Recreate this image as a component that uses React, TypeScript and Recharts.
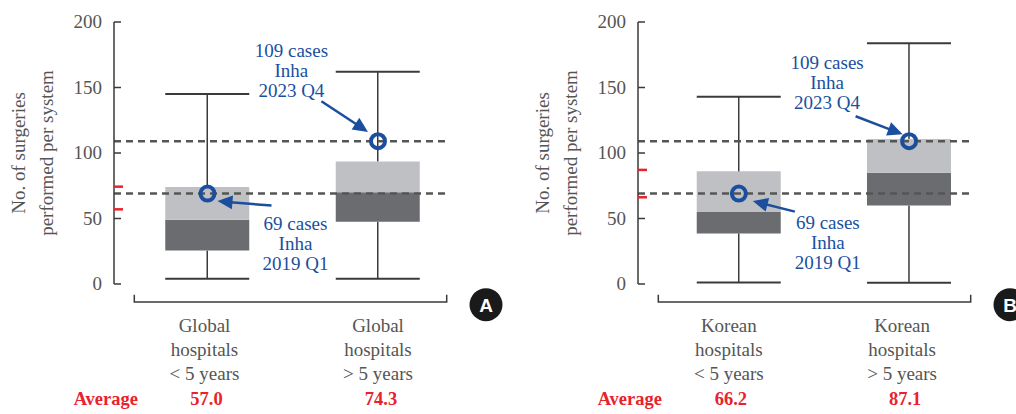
import React from 'react';
import { ComposedChart, Bar, XAxis, YAxis, ReferenceLine, ReferenceDot } from 'recharts';

// ---- data ----
const globalCategories = [
  ['Global', 'hospitals', '< 5 years'],
  ['Global', 'hospitals', '> 5 years'],
];
const globalMin = [4, 4];
const globalQ1 = [25.5, 47.5];
const globalMedian = [49, 70];
const globalQ3 = [74, 93.6];
const globalMax = [145, 162];
const globalAverage = ['57.0', '74.3'];

const koreanCategories = [
  ['Korean', 'hospitals', '< 5 years'],
  ['Korean', 'hospitals', '> 5 years'],
];
const koreanMin = [1.2, 1];
const koreanQ1 = [38.6, 60];
const koreanMedian = [55, 85];
const koreanQ3 = [86, 110.7];
const koreanMax = [143, 183.7];
const koreanAverage = ['66.2', '87.1'];

const inhaCases = [69, 109];
const inhaLabels = [
  ['69 cases', 'Inha', '2019 Q1'],
  ['109 cases', 'Inha', '2023 Q4'],
];
const yTicks = [0, 50, 100, 150, 200];

// ---- styles ----
const FONT = '"Liberation Serif", "Times New Roman", serif';
const GRAY_TEXT = '#555555';
const BLUE = '#1b4f9e';
const RED = '#e8232b';
const DARK = '#6b6c70';
const LIGHT = '#bfc0c3';
const LINE = '#3a3a3a';

const LowWhisker = (p: any) => {
  const { x, y, width, height } = p;
  const cx = x + width / 2;
  return (
    <g>
      <line x1={cx} y1={y} x2={cx} y2={y + height} stroke={LINE} strokeWidth={1.5} />
      <line x1={x} y1={y + height} x2={x + width} y2={y + height} stroke={LINE} strokeWidth={2} />
    </g>
  );
};
const HighWhisker = (p: any) => {
  const { x, y, width, height } = p;
  const cx = x + width / 2;
  return (
    <g>
      <line x1={cx} y1={y} x2={cx} y2={y + height} stroke={LINE} strokeWidth={1.5} />
      <line x1={x} y1={y} x2={x + width} y2={y} stroke={LINE} strokeWidth={2} />
    </g>
  );
};

const Arrow = ({ x1, y1, x2, y2 }: any) => {
  const dx = x2 - x1;
  const dy = y2 - y1;
  const len = Math.hypot(dx, dy);
  const ux = dx / len;
  const uy = dy / len;
  const hl = 15;
  const hw = 7;
  const bx = x2 - ux * hl;
  const by = y2 - uy * hl;
  return (
    <g>
      <line x1={x1} y1={y1} x2={bx + ux * 2} y2={by + uy * 2} stroke={BLUE} strokeWidth={2.5} />
      <polygon
        points={`${x2},${y2} ${bx - uy * hw},${by + ux * hw} ${bx + uy * hw},${by - ux * hw}`}
        fill={BLUE}
      />
    </g>
  );
};

type Annot = { tail: number[]; tip: number[]; tdx: number; tdy: number[] };

const makeAnnotShape = (lines: string[], a: Annot) => (p: any) => {
  const { cx, cy } = p;
  if (cx == null || cy == null) return null;
  return (
    <g>
      <Arrow x1={cx + a.tail[0]} y1={cy + a.tail[1]} x2={cx + a.tip[0]} y2={cy + a.tip[1]} />
      <circle cx={cx} cy={cy} r={7} fill="none" stroke={BLUE} strokeWidth={4} />
      {lines.map((t, i) => (
        <text
          key={i}
          x={cx + a.tdx}
          y={cy + a.tdy[i]}
          textAnchor="middle"
          fontFamily={FONT}
          fontSize={19}
          fill={BLUE}
        >
          {t}
        </text>
      ))}
    </g>
  );
};

const RedMark = (p: any) => {
  const { cx, cy } = p;
  if (cx == null || cy == null) return null;
  return <line x1={cx} y1={cy} x2={cx + 9} y2={cy} stroke={RED} strokeWidth={2.5} />;
};

const YTick = (p: any) => {
  const { x, y, payload } = p;
  return (
    <g>
      <text x={x} y={y} dy={6} textAnchor="end" fontFamily={FONT} fontSize={19} fill={GRAY_TEXT}>
        {payload.value}
      </text>
      <line x1={x + 12} y1={y} x2={x + 19} y2={y} stroke={LINE} strokeWidth={1.5} />
    </g>
  );
};

const YTitle = (p: any) => {
  const vb = p.viewBox || {};
  const ax = vb.x + vb.width;
  const cy = vb.y + vb.height / 2;
  const lines = ['No. of surgeries', 'performed per system'];
  const offs = [-95.5, -68];
  return (
    <g>
      {lines.map((t, i) => (
        <text
          key={i}
          x={ax + offs[i]}
          y={cy}
          transform={`rotate(-90 ${ax + offs[i]} ${cy})`}
          textAnchor="middle"
          dominantBaseline="central"
          fontFamily={FONT}
          fontSize={19}
          fill={GRAY_TEXT}
        >
          {t}
        </text>
      ))}
    </g>
  );
};

type PanelProps = {
  cats: string[][];
  mins: number[];
  q1s: number[];
  meds: number[];
  q3s: number[];
  maxs: number[];
  avgs: string[];
  xDomain: number[];
  labelShift: number[];
  avgShift: number[];
  badge: string;
  annots: Annot[];
};

const Panel = (props: PanelProps) => {
  const { cats, mins, q1s, meds, q3s, maxs, avgs, xDomain, labelShift, avgShift, badge, annots } = props;
  const rows = cats.map((c, i) => ({
    idx: i + 1,
    base: mins[i],
    lowW: q1s[i] - mins[i],
    dark: meds[i] - q1s[i],
    light: q3s[i] - meds[i],
    upW: maxs[i] - q3s[i],
  }));

  const CatTick = (p: any) => {
    const { x, y, payload } = p;
    const i = Math.round(payload.value) - 1;
    if (!cats[i]) return null;
    return (
      <g>
        {cats[i].map((t, k) => (
          <text
            key={k}
            x={x + labelShift[i]}
            y={y + 47.5 + k * 24.2}
            textAnchor="middle"
            fontFamily={FONT}
            fontSize={19}
            fill={GRAY_TEXT}
          >
            {t}
          </text>
        ))}
        <text
          x={x + avgShift[i]}
          y={y + 121}
          textAnchor="middle"
          fontFamily={FONT}
          fontSize={18.5}
          fontWeight="bold"
          fill={RED}
        >
          {avgs[i]}
        </text>
      </g>
    );
  };

  const BottomDecor = (p: any) => {
    const vb = p.viewBox || {};
    const x = vb.x;
    const y = vb.y;
    const w = vb.width;
    return (
      <g>
        <path
          d={`M ${x + 20.3} ${y + 10.7} V ${y + 18} H ${x + w - 1.3} V ${y + 10.7}`}
          fill="none"
          stroke={LINE}
          strokeWidth={1.5}
        />
        <text x={x + 24} y={y + 121} textAnchor="end" fontFamily={FONT} fontSize={18.5} fontWeight="bold" fill={RED}>
          Average
        </text>
        <circle cx={x + 372} cy={y + 20.7} r={16.5} fill="#1a1a1a" />
        <text
          x={x + 372}
          y={y + 27.5}
          textAnchor="middle"
          fontFamily='"Liberation Sans", Arial, sans-serif'
          fontWeight="bold"
          fontSize={19}
          fill="#ffffff"
        >
          {badge}
        </text>
      </g>
    );
  };

  return (
    <ComposedChart width={520} height={414} data={rows} margin={{ top: 22, right: 72, bottom: 0, left: 0 }}>
      <XAxis
        type="number"
        dataKey="idx"
        domain={xDomain}
        allowDataOverflow
        ticks={[1, 2]}
        interval={0}
        height={130}
        axisLine={false}
        tickLine={false}
        tickSize={0}
        tickMargin={0}
        tick={CatTick}
        label={BottomDecor}
      />
      <YAxis
        type="number"
        domain={[0, 200]}
        ticks={yTicks}
        interval={0}
        width={114}
        axisLine={{ stroke: LINE, strokeWidth: 1.5 }}
        tickLine={false}
        tickSize={0}
        tickMargin={12}
        tick={YTick}
        label={YTitle}
      />
      <Bar dataKey="base" stackId="s" fill="transparent" barSize={84} isAnimationActive={false} />
      <Bar dataKey="lowW" stackId="s" barSize={84} shape={LowWhisker} isAnimationActive={false} />
      <Bar dataKey="dark" stackId="s" fill={DARK} barSize={84} isAnimationActive={false} />
      <Bar dataKey="light" stackId="s" fill={LIGHT} barSize={84} isAnimationActive={false} />
      <Bar dataKey="upW" stackId="s" barSize={84} shape={HighWhisker} isAnimationActive={false} />
      {inhaCases.map((v) => (
        <ReferenceLine key={'d' + v} y={v} stroke="#555555" strokeWidth={2.5} strokeDasharray="7 5" />
      ))}
      {avgs.map((a, i) => (
        <ReferenceDot key={'r' + i} x={xDomain[0]} y={parseFloat(a)} r={0} ifOverflow="visible" shape={RedMark} />
      ))}
      {inhaCases.map((v, i) => (
        <ReferenceDot
          key={'a' + i}
          x={i + 1}
          y={v}
          r={7}
          ifOverflow="visible"
          shape={makeAnnotShape(inhaLabels[i], annots[i])}
        />
      ))}
    </ComposedChart>
  );
};

const globalAnnots: Annot[] = [
  { tail: [64, 12], tip: [10, 7.5], tdx: 88, tdy: [36, 56, 76] },
  { tail: [-56.6, -40], tip: [-10, -9.3], tdx: -86.6, tdy: [-84, -64, -44.3] },
];
const koreanAnnots: Annot[] = [
  { tail: [56, 18], tip: [14, 7.5], tdx: 89, tdy: [35, 55, 75] },
  { tail: [-53.5, -25], tip: [-6.5, -7], tdx: -82, tdy: [-72, -52, -32] },
];

export default function App() {
  return (
    <div style={{ position: 'absolute', left: 0, top: 0, width: 1016, height: 414, background: '#fff', overflow: 'hidden' }}>
      <div style={{ position: 'absolute', left: 0, top: 0 }}>
        <Panel
          cats={globalCategories}
          mins={globalMin}
          q1s={globalQ1}
          meds={globalMedian}
          q3s={globalQ3}
          maxs={globalMax}
          avgs={globalAverage}
          xDomain={[0.4516, 2.4106]}
          labelShift={[-3, 0]}
          avgShift={[-1, 3]}
          badge="A"
          annots={globalAnnots}
        />
      </div>
      <div style={{ position: 'absolute', left: 524, top: 0 }}>
        <Panel
          cats={koreanCategories}
          mins={koreanMin}
          q1s={koreanQ1}
          meds={koreanMedian}
          q3s={koreanQ3}
          maxs={koreanMax}
          avgs={koreanAverage}
          xDomain={[0.4076, 2.3694]}
          labelShift={[-10, -7]}
          avgShift={[-8, -4]}
          badge="B"
          annots={koreanAnnots}
        />
      </div>
    </div>
  );
}
